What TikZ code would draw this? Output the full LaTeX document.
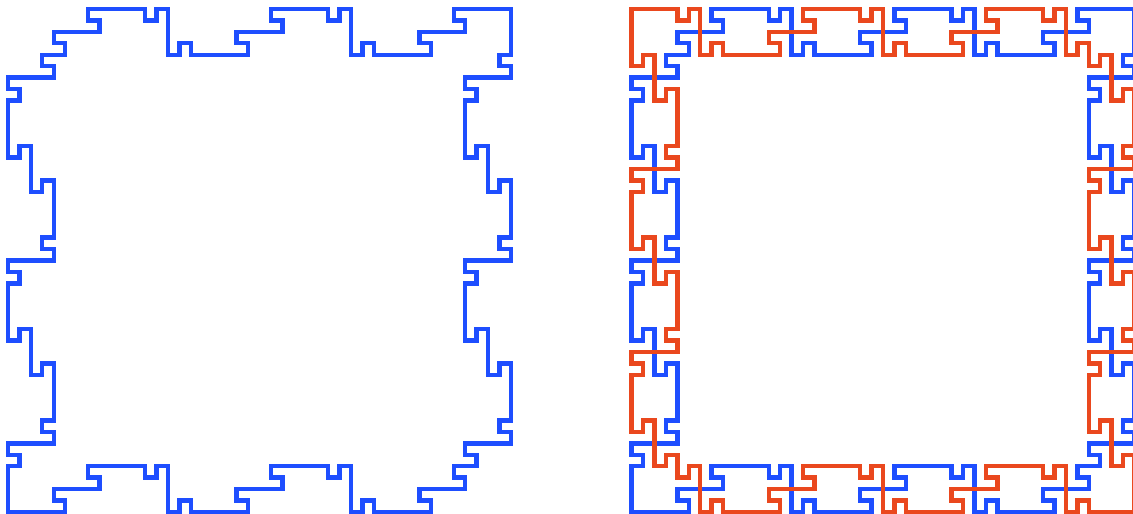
\documentclass[tikz,border=0pt]{standalone}
\definecolor{tileblue}{RGB}{30,78,255}
\definecolor{tilered}{RGB}{234,72,30}
\tikzset{curveline/.style={line width=2.5pt, line join=miter}}
\def\tilepath{(0,6) -- (4,6) -- (4,5) -- (3,5) -- (3,4) -- (5,4) -- (5,3) -- (4,3) -- (4,2) -- (8,2) -- (8,1) -- (7,1) -- (7,0) -- (12,0) -- (12,1) -- (13,1) -- (13,0) -- (14,0) -- (14,4) -- (15,4) -- (15,3) -- (16,3) -- (16,4) -- (21,4) -- (21,3) -- (20,3) -- (20,2) -- (24,2) -- (24,1) -- (23,1) -- (23,0) -- (28,0) -- (28,1) -- (29,1) -- (29,0) -- (30,0) -- (30,4) -- (31,4) -- (31,3) -- (32,3) -- (32,4) -- (37,4) -- (37,3) -- (36,3) -- (36,2) -- (40,2) -- (40,1) -- (39,1) -- (39,0) -- (44,0) -- (44,4) -- (43,4) -- (43,5) -- (44,5) -- (44,6) -- (40,6) -- (40,7) -- (41,7) -- (41,8) -- (40,8) -- (40,13) -- (41,13) -- (41,12) -- (42,12) -- (42,16) -- (43,16) -- (43,15) -- (44,15) -- (44,20) -- (43,20) -- (43,21) -- (44,21) -- (44,22) -- (40,22) -- (40,23) -- (41,23) -- (41,24) -- (40,24) -- (40,29) -- (41,29) -- (41,28) -- (42,28) -- (42,32) -- (43,32) -- (43,31) -- (44,31) -- (44,36) -- (43,36) -- (43,37) -- (44,37) -- (44,38) -- (40,38) -- (40,39) -- (41,39) -- (41,40) -- (39,40) -- (39,41) -- (40,41) -- (40,42) -- (36,42) -- (36,43) -- (37,43) -- (37,44) -- (32,44) -- (32,43) -- (31,43) -- (31,44) -- (30,44) -- (30,40) -- (29,40) -- (29,41) -- (28,41) -- (28,40) -- (23,40) -- (23,41) -- (24,41) -- (24,42) -- (20,42) -- (20,43) -- (21,43) -- (21,44) -- (16,44) -- (16,43) -- (15,43) -- (15,44) -- (14,44) -- (14,40) -- (13,40) -- (13,41) -- (12,41) -- (12,40) -- (7,40) -- (7,41) -- (8,41) -- (8,42) -- (4,42) -- (4,43) -- (5,43) -- (5,44) -- (0,44) -- (0,40) -- (1,40) -- (1,39) -- (0,39) -- (0,38) -- (4,38) -- (4,37) -- (3,37) -- (3,36) -- (4,36) -- (4,31) -- (3,31) -- (3,32) -- (2,32) -- (2,28) -- (1,28) -- (1,29) -- (0,29) -- (0,24) -- (1,24) -- (1,23) -- (0,23) -- (0,22) -- (4,22) -- (4,21) -- (3,21) -- (3,20) -- (4,20) -- (4,15) -- (3,15) -- (3,16) -- (2,16) -- (2,12) -- (1,12) -- (1,13) -- (0,13) -- (0,8) -- (1,8) -- (1,7) -- (0,7) -- cycle}
\begin{document}
\begin{tikzpicture}
\useasboundingbox (0,0) rectangle (22.66cm,-10.28cm);
% left figure
\begin{scope}[shift={(0.16cm,-0.18cm)}, x={(0.2286cm,0cm)}, y={(0cm,-0.2286cm)}]
  \draw[curveline, tileblue] \tilepath;
\end{scope}
% right figure, blue copy
\begin{scope}[shift={(12.632cm,-0.18cm)}, x={(0.2286cm,0cm)}, y={(0cm,-0.2286cm)}]
  \draw[curveline, tileblue] \tilepath;
\end{scope}
% right figure, red copy rotated by 90 degrees
\begin{scope}[shift={(12.632cm,-10.2384cm)}, x={(0cm,0.2286cm)}, y={(0.2286cm,0cm)}]
  \draw[curveline, tilered] \tilepath;
\end{scope}
\end{tikzpicture}
\end{document}
